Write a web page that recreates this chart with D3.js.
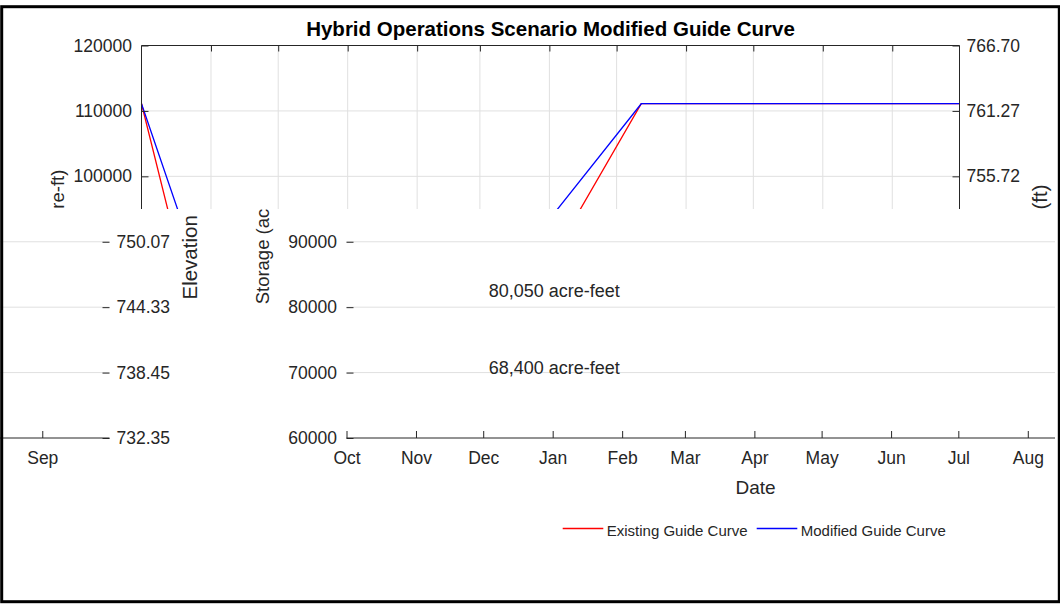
<!DOCTYPE html>
<html>
<head>
<meta charset="utf-8">
<script src="https://cdn.jsdelivr.net/npm/d3@7"></script>
<style>
  body { margin: 0; background: #fff; }
  svg { display: block; }
  text { font-family: "Liberation Sans", Arial, sans-serif; }
</style>
</head>
<body>
<div id="chart"></div>
<script>
// ---- data ----
var monthLabels = ["Oct", "Nov", "Dec", "Jan", "Feb", "Mar", "Apr", "May", "Jun", "Jul", "Aug", "Sep"];
var storageTicks = [60000, 70000, 80000, 90000, 100000, 110000, 120000];
var elevationLabels = ["732.35", "738.45", "744.33", "750.07", "755.72", "761.27", "766.70"];

var existingDates = ["2018-10-01", "2018-11-01", "2019-03-01", "2019-05-12", "2019-10-01"];
var existingStorage = [111100, 68400, 68400, 111100, 111100];
var modifiedDates = ["2018-10-01", "2018-11-01", "2019-03-01", "2019-05-12", "2019-10-01"];
var modifiedStorage = [111100, 80050, 80050, 111100, 111100];

var noteTexts = ["80,050 acre-feet", "68,400 acre-feet"];
var noteValues = [80050, 68400];
var noteDate = "2019-01-01";

var seriesNames = ["Existing Guide Curve", "Modified Guide Curve"];
var seriesColors = ["#ff0000", "#0000ff"];

// ---- page / layout ----
var W = 1060, H = 604;
var cutY = 209;       // below this line the picture is shifted right and wrapped
var shift = 205, wrap = 1055;
var plot = {left: 141.5, right: 959.5, top: 45.5, bottom: 438};
var ink = "#262626", gridColor = "#e0e0e0";

var parse = d3.timeParse("%Y-%m-%d");

var x = d3.scaleTime()
  .domain([parse("2018-10-01"), parse("2019-10-01")])
  .range([plot.left, plot.right]);

var y = d3.scaleLinear()
  .domain([60000, 120000])
  .range([plot.bottom, plot.top]);

var monthStarts = d3.timeMonth.range(parse("2018-10-01"), parse("2019-10-01"));

var series = [
  d3.zip(existingDates, existingStorage).map(function(d) { return {date: parse(d[0]), value: d[1]}; }),
  d3.zip(modifiedDates, modifiedStorage).map(function(d) { return {date: parse(d[0]), value: d[1]}; })
];

var svg = d3.select("#chart").append("svg")
  .attr("width", W)
  .attr("height", H);

svg.append("rect").attr("width", W).attr("height", H).attr("fill", "#fff");

var defs = svg.append("defs");
function clip(id, x0, y0, w, h) {
  defs.append("clipPath").attr("id", id)
    .append("rect").attr("x", x0).attr("y", y0).attr("width", w).attr("height", h);
  return "url(#" + id + ")";
}

// draws the whole figure; "full" = with vertical grid, axis box sides and curves
function drawChart(g, full) {
  // grid
  if (full) {
    g.append("g").selectAll("line")
      .data(monthStarts.slice(1))
      .enter().append("line")
        .attr("x1", function(d) { return x(d); })
        .attr("x2", function(d) { return x(d); })
        .attr("y1", plot.top).attr("y2", plot.bottom)
        .attr("stroke", gridColor);
  }
  g.append("g").selectAll("line")
    .data(storageTicks.slice(1, -1))
    .enter().append("line")
      .attr("x1", plot.left).attr("x2", plot.right)
      .attr("y1", function(d) { return y(d); })
      .attr("y2", function(d) { return y(d); })
      .attr("stroke", gridColor);

  // curves
  if (full) {
    var line = d3.line()
      .x(function(d) { return x(d.date); })
      .y(function(d) { return y(d.value); });
    g.append("g").selectAll("path")
      .data(series)
      .enter().append("path")
        .attr("d", line)
        .attr("fill", "none")
        .attr("stroke", function(d, i) { return seriesColors[i]; })
        .attr("stroke-width", 1.3);
  }

  // axes (inward ticks, like the original)
  var xb = g.append("g")
    .attr("transform", "translate(0," + plot.bottom + ")")
    .call(d3.axisBottom(x).tickValues(monthStarts).tickSizeInner(-7).tickSizeOuter(0)
      .tickPadding(13.5).tickFormat(function(d, i) { return monthLabels[i]; }));
  var xt = g.append("g")
    .attr("transform", "translate(0," + plot.top + ")")
    .call(d3.axisTop(x).tickValues(monthStarts.slice(1)).tickSizeInner(-6).tickSizeOuter(0).tickFormat(""));
  var yl = g.append("g")
    .attr("transform", "translate(" + plot.left + ",0)")
    .call(d3.axisLeft(y).tickValues(storageTicks).tickSizeInner(-7).tickSizeOuter(0).tickPadding(9.5)
      .tickFormat(d3.format("d")));
  var yr = g.append("g")
    .attr("transform", "translate(" + plot.right + ",0)")
    .call(d3.axisRight(y).tickValues(storageTicks).tickSizeInner(-7).tickSizeOuter(0).tickPadding(7)
      .tickFormat(function(d, i) { return elevationLabels[i]; }));

  [xb, xt, yl, yr].forEach(function(a) {
    a.attr("color", ink).attr("font-family", null).attr("font-size", 17.5);
    a.select(".domain").remove();
    a.selectAll("text").attr("fill", ink);
  });

  // box
  g.append("line").attr("x1", plot.left).attr("x2", plot.right)
    .attr("y1", plot.bottom).attr("y2", plot.bottom).attr("stroke", ink);
  if (full) {
    g.append("line").attr("x1", plot.left).attr("x2", plot.right)
      .attr("y1", plot.top).attr("y2", plot.top).attr("stroke", ink);
    g.append("line").attr("x1", plot.left).attr("x2", plot.left)
      .attr("y1", plot.top).attr("y2", plot.bottom).attr("stroke", ink);
    g.append("line").attr("x1", plot.right).attr("x2", plot.right)
      .attr("y1", plot.top).attr("y2", plot.bottom).attr("stroke", ink);
  }

  // annotations
  g.append("g").selectAll("text")
    .data(noteValues)
    .enter().append("text")
      .attr("x", x(parse(noteDate)) + 1.5)
      .attr("y", function(d) { return y(d) - 9.5; })
      .attr("text-anchor", "middle")
      .attr("font-size", 18)
      .attr("fill", ink)
      .text(function(d, i) { return noteTexts[i]; });

  // titles
  g.append("text")
    .attr("x", (plot.left + plot.right) / 2).attr("y", 35.5)
    .attr("text-anchor", "middle")
    .attr("font-size", 20.5).attr("font-weight", "bold")
    .attr("fill", "#000")
    .text("Hybrid Operations Scenario Modified Guide Curve");

  g.append("text")
    .attr("transform", "translate(64,237) rotate(-90)")
    .attr("text-anchor", "middle")
    .attr("font-size", 18.5).attr("fill", ink)
    .text("Storage (acre-ft)");

  g.append("text")
    .attr("transform", "translate(1047,242) rotate(-90)")
    .attr("text-anchor", "middle")
    .attr("font-size", 20.5).attr("fill", ink)
    .text("Elevation (ft)");

  g.append("text")
    .attr("x", (plot.left + plot.right) / 2).attr("y", 494)
    .attr("text-anchor", "middle")
    .attr("font-size", 19).attr("fill", ink)
    .text("Date");

  // legend
  var legX = [357.7, 551.7];
  var leg = g.append("g").selectAll("g")
    .data(seriesNames)
    .enter().append("g")
      .attr("transform", function(d, i) { return "translate(" + legX[i] + ",528.5)"; });
  leg.append("line")
    .attr("x1", 0).attr("x2", 40.6)
    .attr("stroke", function(d, i) { return seriesColors[i]; })
    .attr("stroke-width", 1.4);
  leg.append("text")
    .attr("x", 44).attr("y", 7.5)
    .attr("font-size", 15).attr("fill", ink)
    .text(function(d) { return d; });
}

// top part: drawn as is
var upperPart = svg.append("g").attr("clip-path", clip("clipTop", 0, 0, W, cutY));
drawChart(upperPart, true);

// lower part: shifted right, wrapping round
var lowerA = svg.append("g").attr("clip-path", clip("clipLowA", shift, cutY, wrap - shift, H - cutY))
  .append("g").attr("transform", "translate(" + shift + ",0)");
drawChart(lowerA, false);

var lowerB = svg.append("g").attr("clip-path", clip("clipLowB", 0, cutY, shift, H - cutY))
  .append("g").attr("transform", "translate(" + (shift - wrap) + ",0)");
drawChart(lowerB, false);

// outer frame
svg.append("rect")
  .attr("x", 1.7).attr("y", 6.7)
  .attr("width", 1057.6).attr("height", 595)
  .attr("fill", "none")
  .attr("stroke", "#000")
  .attr("stroke-width", 3);
</script>
</body>
</html>
